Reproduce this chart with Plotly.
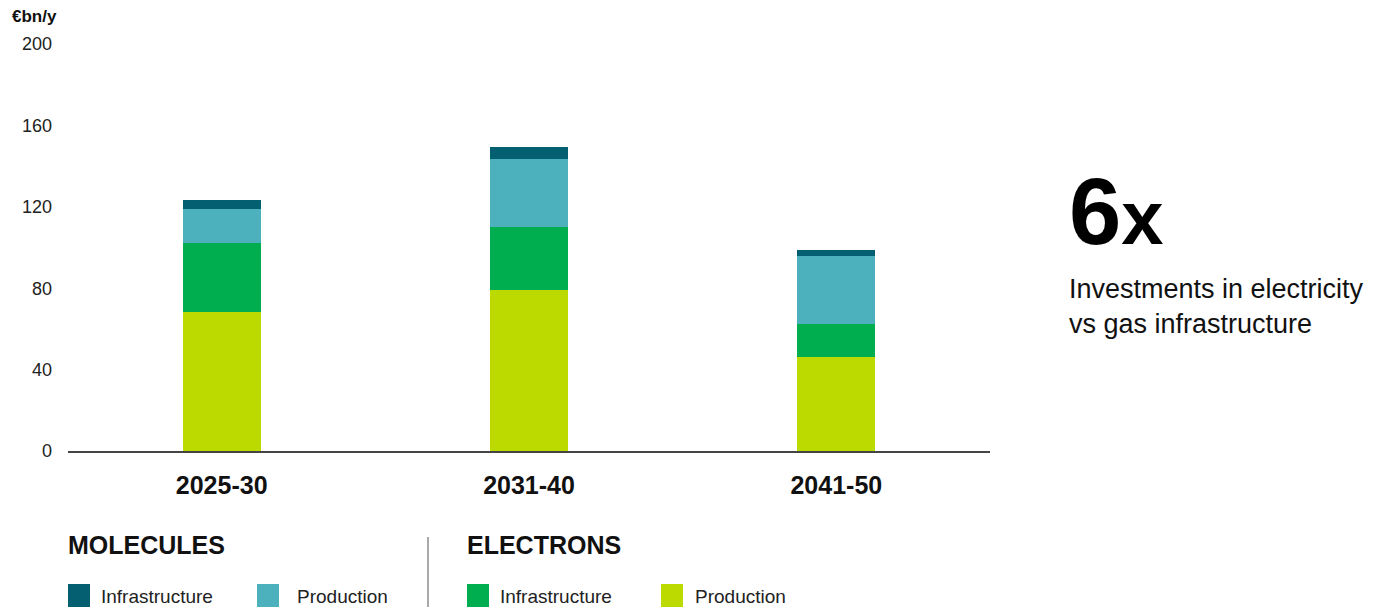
import plotly.graph_objects as go

periods = ["2025-30", "2031-40", "2041-50"]
electrons_production = [68.2, 79.0, 46.2]
electrons_infrastructure = [34.1, 31.2, 16.1]
molecules_production = [16.6, 33.2, 33.6]
molecules_infrastructure = [4.4, 6.1, 2.8]
y_ticks = [0, 40, 80, 120, 160, 200]

C_MOL_INFRA = "#045F70"
C_MOL_PROD = "#4CB0BD"
C_ELE_INFRA = "#00AE4F"
C_ELE_PROD = "#BDDA00"

FONT = "Liberation Sans, Arial, sans-serif"

W, H = 1376, 607
OFF = 8  # page body margin
ML, MT = 60, 36
MR = W - 982
MB = H - 443
PW = W - ML - MR
PH = H - MT - MB


def px(x):
    return (x - OFF - ML) / PW


def py(y):
    return (H - MB - (y - OFF)) / PH


fig = go.Figure()
for name, vals, col in [
    ("Electrons Production", electrons_production, C_ELE_PROD),
    ("Electrons Infrastructure", electrons_infrastructure, C_ELE_INFRA),
    ("Molecules Production", molecules_production, C_MOL_PROD),
    ("Molecules Infrastructure", molecules_infrastructure, C_MOL_INFRA),
]:
    fig.add_trace(go.Bar(x=periods, y=vals, name=name, marker=dict(color=col, line=dict(width=0)),
                         width=0.254, showlegend=False, hoverinfo="y+name"))

fig.update_layout(
    barmode="stack",
    width=W, height=H,
    margin=dict(l=ML, r=MR, t=MT, b=MB, pad=0),
    paper_bgcolor="white", plot_bgcolor="white",
    font=dict(family=FONT, color="#111111"),
    xaxis=dict(showline=True, linecolor="#444444", linewidth=1.5, showgrid=False, ticks="",
               tickfont=dict(size=25, family=FONT, color="#111111", weight="bold"),
               ticklabelstandoff=11, range=[-0.5, 2.5]),
    yaxis=dict(range=[0, 200], tickvals=y_ticks, showgrid=False, zeroline=False, showline=False,
               ticks="", tickfont=dict(size=18, family=FONT, color="#222222"), ticklabelstandoff=15),
)

annotations = []


def text(x, y, s, size, bold=False, xanchor="left", color="#111111"):
    annotations.append(dict(xref="paper", yref="paper", x=px(x), y=py(y), text=s, showarrow=False,
                            xanchor=xanchor, yanchor="middle", align="left",
                            font=dict(size=size, family=FONT, color=color, weight="bold" if bold else "normal")))


text(10, 16, "€bn/y", 17, bold=True)
text(66, 545, "MOLECULES", 25, bold=True)
text(465, 545, "ELECTRONS", 25, bold=True)

legend_items = [
    (68, 99, "Infrastructure", C_MOL_INFRA),
    (257, 295, "Production", C_MOL_PROD),
    (467, 498, "Infrastructure", C_ELE_INFRA),
    (661, 693, "Production", C_ELE_PROD),
]
shapes = []
for sx, tx, label, col in legend_items:
    shapes.append(dict(type="rect", xref="paper", yref="paper", x0=px(sx), x1=px(sx + 22),
                       y0=py(584), y1=py(612), fillcolor=col, line=dict(width=0)))
    text(tx, 596, label, 19, color="#222222")

shapes.append(dict(type="line", xref="paper", yref="paper", x0=px(428), x1=px(428), y0=py(537), y1=py(612),
                   line=dict(color="#555555", width=1)))

annotations.append(dict(xref="paper", yref="paper", x=px(1067), y=py(211),
                        text="6<span style='font-size:76px'>x</span>", showarrow=False,
                        xanchor="left", yanchor="middle",
                        font=dict(size=94, family=FONT, color="#000000", weight="bold")))
annotations.append(dict(xref="paper", yref="paper", x=px(1067), y=py(306),
                        text="Investments in electricity<br>vs gas infrastructure", showarrow=False,
                        xanchor="left", yanchor="middle", align="left",
                        font=dict(size=27, family=FONT, color="#111111")))

fig.update_layout(annotations=annotations, shapes=shapes)
fig.write_html("out.html")
